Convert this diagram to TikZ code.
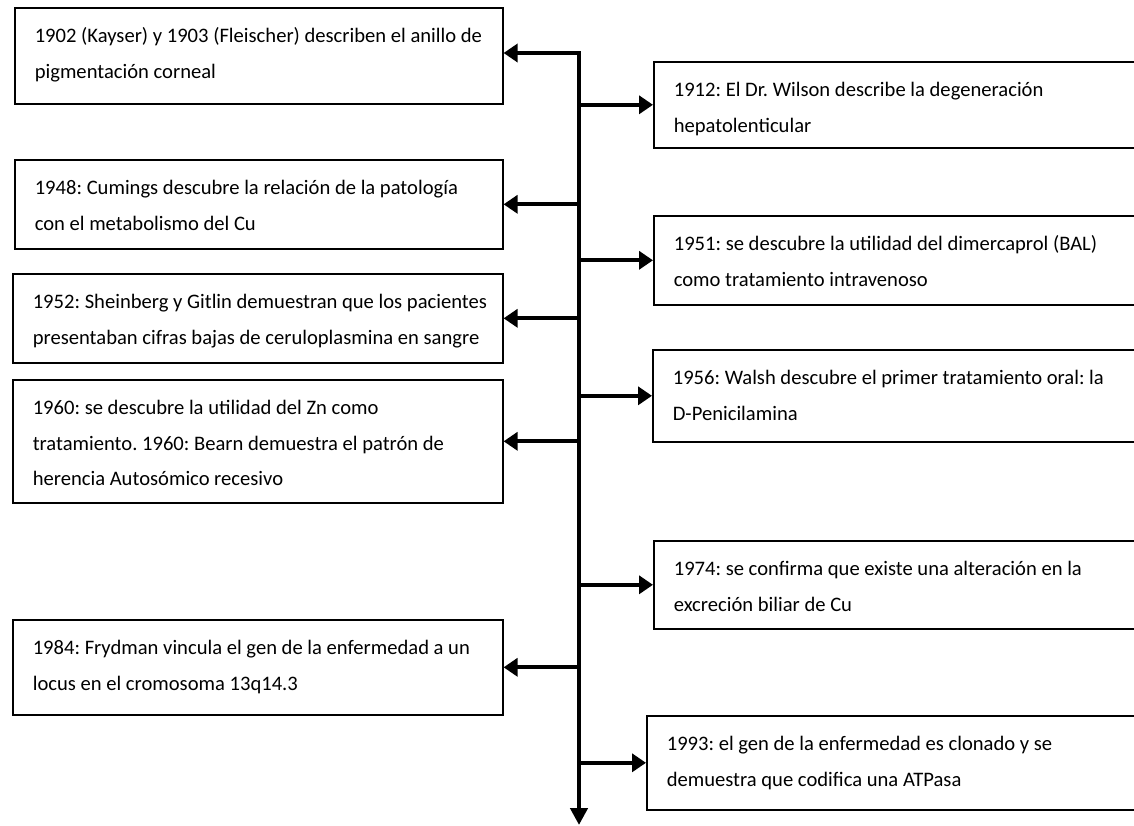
\documentclass[tikz,border=0pt]{standalone}
\usepackage{fontspec}
\setmainfont{Carlito}
\usetikzlibrary{arrows.meta}
\tikzset{
  caja/.style={draw, line width=1.6pt, anchor=north west, align=flush left,
    inner xsep=6pt, inner ysep=0pt, text height=35pt, text depth={#1pt-35pt},
    font=\fontsize{20.6}{35.5}\selectfont,
    execute at begin node={\frenchspacing\leftskip=14pt}},
  rama/.style={line width=4pt, -{Triangle[length=14pt,width=18pt]}},
}
\begin{document}
\begin{tikzpicture}[x=1pt, y=-1pt]
    \clip (0,0) rectangle (1134,825);
    \fill[white] (0,0) rectangle (1134,825);

    % Cajas de la izquierda
    \node[caja=96, text width=476pt] (c1902) at (14,7)
        {1902 (Kayser) y 1903 (Fleischer) describen el anillo de\\pigmentación corneal};
    \node[caja=89, text width=476pt] (c1948) at (14,159)
        {1948: Cumings descubre la relación de la patología\\con el metabolismo del Cu};
    \node[caja=89, text width=478pt] (c1952) at (12,273)
        {1952: Sheinberg y Gitlin demuestran que los pacientes\\presentaban cifras bajas de ceruloplasmina en sangre};
    \node[caja=123, text width=478pt] (c1960) at (12,379)
        {1960: se descubre la utilidad del Zn como\\tratamiento. 1960: Bearn demuestra el patrón de\\herencia Autosómico recesivo};
    \node[caja=95, text width=478pt] (c1984) at (12,619)
        {1984: Frydman vincula el gen de la enfermedad a un\\locus en el cromosoma 13q14.3};

    % Cajas de la derecha
    \node[caja=86, text width=475pt] (c1912) at (653,61)
        {1912: El Dr. Wilson describe la degeneración\\hepatolenticular};
    \node[caja=89, text width=475pt] (c1951) at (653,215)
        {1951: se descubre la utilidad del dimercaprol (BAL)\\como tratamiento intravenoso};
    \node[caja=92, text width=476pt] (c1956) at (652,349)
        {1956: Walsh descubre el primer tratamiento oral: la\\D-Penicilamina};
    \node[caja=88, text width=475pt] (c1974) at (653,540)
        {1974: se confirma que existe una alteración en la\\excreción biliar de Cu};
    \node[caja=94, text width=482pt] (c1993) at (646,715)
        {1993: el gen de la enfermedad es clonado y se\\demuestra que codifica una ATPasa};

    % Eje del tiempo
    \coordinate (arriba) at (579,53);
    \coordinate (abajo) at (579,825);
    \draw[line width=4.6pt, line join=miter,
        {Triangle[length=14pt,width=18pt]}-{Triangle[length=17pt,width=17pt]}]
        (arriba -| c1902.east) -- (arriba) -- (abajo);

    % Ramas
    \foreach \c in {c1948, c1952, c1960, c1984}
        \draw[rama] (arriba |- \c.east) -- (\c.east);
    \foreach \c in {c1912, c1951, c1956, c1974, c1993}
        \draw[rama] (arriba |- \c.west) -- (\c.west);
\end{tikzpicture}
\end{document}
